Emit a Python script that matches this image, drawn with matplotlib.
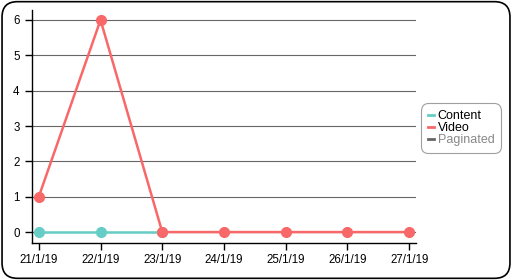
import matplotlib
matplotlib.use("Agg")
import matplotlib.pyplot as plt
from matplotlib.patches import FancyBboxPatch
from matplotlib.lines import Line2D

plt.rcParams['font.family'] = ['Liberation Sans', 'DejaVu Sans']

dates = ["21/1/19", "22/1/19", "23/1/19", "24/1/19", "25/1/19", "26/1/19", "27/1/19"]
content = [0, 0, 0]
video = [1, 6, 0, 0, 0, 0, 0]
paginated = []
yticks = [0, 1, 2, 3, 4, 5, 6]

c_content = "#66cdc6"
c_video = "#f96868"
c_pag = "#666666"

fig = plt.figure(figsize=(5.12, 2.8), dpi=100)
border = FancyBboxPatch((0.004, 0.006), 0.992, 0.988, boxstyle="round,pad=0,rounding_size=0.03",
                        transform=fig.transFigure, fill=False, edgecolor="black", linewidth=1.2,
                        mutation_aspect=512/280)
fig.patches.append(border)

ax = fig.add_axes([0.0625, 0.132, 0.75, 0.832])
x = list(range(len(dates)))
ax.plot(x[:len(content)], content, color=c_content, lw=1.8, marker='o', ms=7, zorder=3)
ax.plot(x, video, color=c_video, lw=1.8, marker='o', ms=7, zorder=4)

ax.set_xlim(-0.11, 6.11)
ax.set_ylim(-0.31, 6.28)
ax.set_xticks(x)
ax.set_xticklabels(dates)
ax.set_yticks(yticks)
ax.yaxis.grid(True, color="#666666", lw=0.8)
ax.set_axisbelow(True)
for s in ["top", "right"]:
    ax.spines[s].set_visible(False)
for s in ["left", "bottom"]:
    ax.spines[s].set_color("black")
    ax.spines[s].set_linewidth(1)
ax.tick_params(labelsize=8.3, length=5, width=1, colors="black", pad=3)
ax.tick_params(axis='y', pad=4)

handles = [Line2D([], [], color=c_content, lw=2),
           Line2D([], [], color=c_video, lw=2),
           Line2D([], [], color=c_pag, lw=2)]
leg = fig.legend(handles, ["Content", "Video", "Paginated"], loc="center left",
                 bbox_to_anchor=(0.822, 0.542), fontsize=9, handlelength=0.5,
                 handletextpad=0.3, labelspacing=0.0, borderpad=0.55, borderaxespad=0,
                 frameon=True, fancybox=True, edgecolor="#888888")
leg.get_frame().set_linewidth(0.8)
leg.get_frame().set_boxstyle("round", pad=0, rounding_size=0.6)
leg.get_texts()[2].set_color("#888888")

fig.savefig("out.png", dpi=100)
